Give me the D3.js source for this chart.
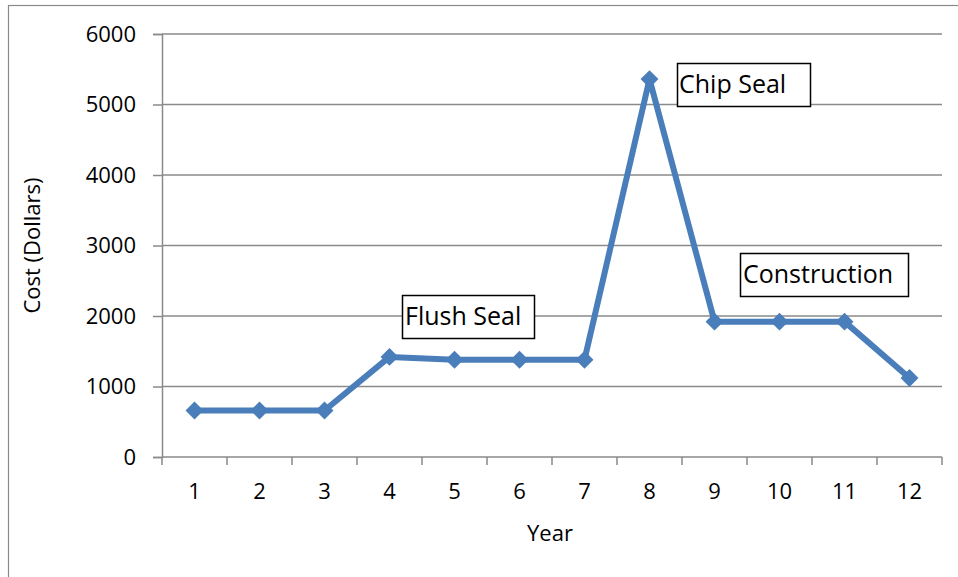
<!DOCTYPE html>
<html>
<head>
<meta charset="utf-8">
<script src="https://cdn.jsdelivr.net/npm/d3@7"></script>
<style>
  html, body { margin: 0; padding: 0; background: #fff; }
  svg { display: block; font-family: "Open Sans", "Noto Sans", sans-serif; }
</style>
</head>
<body>
<svg id="chart" width="958" height="577"></svg>
<script>
// Maintenance cost per year
const years = ["1", "2", "3", "4", "5", "6", "7", "8", "9", "10", "11", "12"];
const costs = [660, 660, 660, 1420, 1380, 1380, 1380, 5360, 1920, 1920, 1920, 1120];
const yTicks = [0, 1000, 2000, 3000, 4000, 5000, 6000];
const noteLabels = ["Flush Seal", "Chip Seal", "Construction"];

const svg = d3.select("#chart");
const plot = { left: 162, right: 942, top: 34, bottom: 457 };
const gridColor = "#8a8a8a";
const lineColor = "#4a7ebb";

// outer frame
svg.append("rect")
  .attr("x", 8.5).attr("y", 5.5)
  .attr("width", 1000).attr("height", 1000)
  .attr("fill", "none").attr("stroke", gridColor).attr("stroke-width", 1.2);

const x = d3.scaleBand().domain(years).range([plot.left, plot.right]).padding(0);
const y = d3.scaleLinear().domain([0, 6000]).range([plot.bottom, plot.top]);
const cx = d => x(d) + x.bandwidth() / 2;

// horizontal gridlines + y ticks
const yAxis = d3.axisLeft(y).tickValues(yTicks).tickSize(9).tickPadding(17).tickFormat(d3.format("d"));
const gy = svg.append("g").attr("transform", `translate(${plot.left},0)`).call(yAxis);
gy.select(".domain").attr("stroke", gridColor).attr("stroke-width", 1.5);
gy.selectAll(".tick line").attr("stroke", gridColor).attr("stroke-width", 1.5);
gy.selectAll(".tick text").attr("font-size", 22).attr("fill", "#000")
  .attr("font-family", "'Open Sans', sans-serif");

svg.append("g").selectAll("line").data(yTicks.filter(v => v > 0)).join("line")
  .attr("x1", plot.left).attr("x2", plot.right)
  .attr("y1", d => y(d)).attr("y2", d => y(d))
  .attr("stroke", gridColor).attr("stroke-width", 1.5);

// x axis: baseline with ticks at category boundaries
svg.append("line")
  .attr("x1", plot.left).attr("x2", plot.right)
  .attr("y1", y(0)).attr("y2", y(0))
  .attr("stroke", gridColor).attr("stroke-width", 1.5);
const bounds = years.map(d => x(d)).concat([x.range()[1]]);
svg.append("g").selectAll("line").data(bounds).join("line")
  .attr("x1", d => d).attr("x2", d => d)
  .attr("y1", y(0)).attr("y2", y(0) + 8)
  .attr("stroke", gridColor).attr("stroke-width", 1.5);
svg.append("g").selectAll("text").data(years).join("text")
  .attr("x", d => cx(d)).attr("y", y(0) + 42)
  .attr("text-anchor", "middle").attr("font-size", 22).attr("fill", "#000")
  .text(d => d);

// axis titles
svg.append("text")
  .attr("x", 550).attr("y", 541)
  .attr("text-anchor", "middle").attr("font-size", 22).attr("fill", "#000")
  .text("Year");
svg.append("text")
  .attr("transform", `translate(40,${(plot.top + plot.bottom) / 2}) rotate(-90)`)
  .attr("text-anchor", "middle").attr("font-size", 22).attr("fill", "#000")
  .text("Cost (Dollars)");

// cost line
const line = d3.line().x((d, i) => cx(years[i])).y(d => y(d));
svg.append("path").datum(costs)
  .attr("d", line)
  .attr("fill", "none").attr("stroke", lineColor)
  .attr("stroke-width", 6).attr("stroke-linejoin", "round");

// diamond markers
const diamond = d3.symbol().type(d3.symbolDiamond2).size(205);
svg.append("g").selectAll("path").data(costs).join("path")
  .attr("transform", (d, i) => `translate(${cx(years[i])},${y(d)})`)
  .attr("d", diamond)
  .attr("fill", lineColor);

// annotation boxes
const noteBoxes = [
  { x: 402, y: 295, w: 132, h: 43, tx: 405, ty: 325 },
  { x: 677, y: 63, w: 133, h: 43, tx: 679, ty: 93 },
  { x: 740, y: 253, w: 168, h: 43, tx: 743, ty: 283 }
];
const notes = svg.append("g").selectAll("g").data(noteLabels).join("g");
notes.append("rect")
  .attr("x", (d, i) => noteBoxes[i].x + 0.5).attr("y", (d, i) => noteBoxes[i].y + 0.5)
  .attr("width", (d, i) => noteBoxes[i].w).attr("height", (d, i) => noteBoxes[i].h)
  .attr("fill", "#fff").attr("stroke", "#000").attr("stroke-width", 1.5);
notes.append("text")
  .attr("x", (d, i) => noteBoxes[i].tx).attr("y", (d, i) => noteBoxes[i].ty)
  .attr("font-size", 25).attr("fill", "#000")
  .text(d => d);
</script>
</body>
</html>
